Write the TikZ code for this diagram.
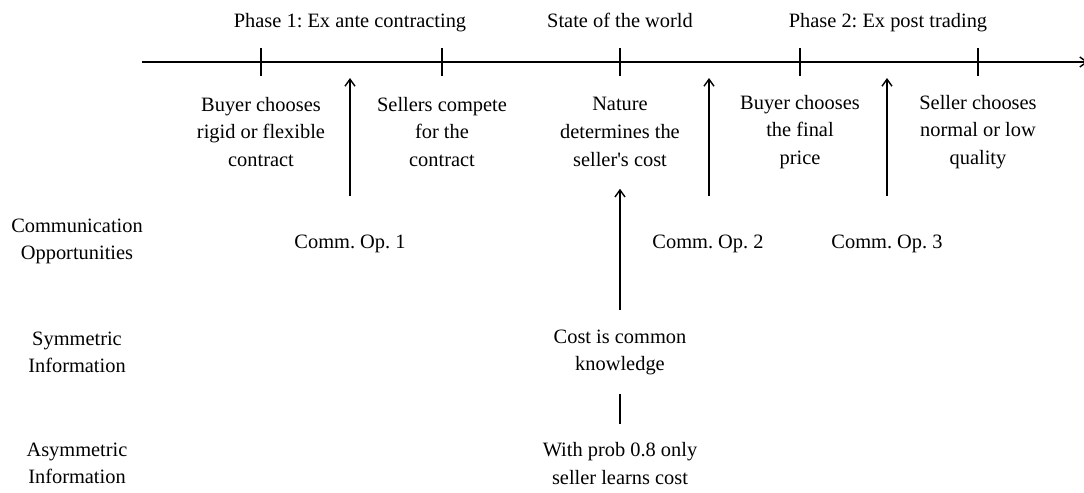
\documentclass[tikz,border=0pt]{standalone}
\usepackage{fontspec}
\setmainfont{Liberation Serif}
\usetikzlibrary{arrows.meta}
\tikzset{
  lbl/.style={align=center, inner sep=0pt, font=\fontsize{10.2}{13.8}\selectfont\frenchspacing},
  axisline/.style={line width=0.7pt},
  tick/.style={line width=0.7pt},
  commarrow/.style={line width=0.7pt,-{Straight Barb[length=3.5pt,width=5pt]}}
}
\begin{document}
\begin{tikzpicture}[x=0.5pt,y=-0.5pt]
\useasboundingbox (0,0) rectangle (1084,493);

% time line
\coordinate (start) at (142,62);
\coordinate (stop) at (1088,62);
\draw[axisline,-{Straight Barb[length=3.5pt,width=5pt]}] (start) -- (stop);

\foreach \x/\n in {261/t1,442/t2,620/t3,800/t4,978/t5}
    \draw[tick] (\x,48) coordinate (\n) -- (\x,76);

% phases
\node[lbl,anchor=base] (phase1) at (350,27) {Phase 1: Ex ante contracting};
\node[lbl,anchor=base] (state) at (620,27) {State of the world};
\node[lbl,anchor=base] (phase2) at (888,27) {Phase 2: Ex post trading};

% events
\node[lbl] (buyer1) at (261,132) {Buyer chooses\\rigid or flexible\\contract};
\node[lbl] (compete) at (442,132) {Sellers compete\\for the\\contract};
\node[lbl] (nature) at (620,132) {Nature\\determines the\\seller\textquotesingle s cost};
\node[lbl] (buyer2) at (800,132) {Buyer chooses\\the final\\price};
\node[lbl] (quality) at (978,132) {Seller chooses\\normal or low\\quality};

% row labels
\node[lbl] (commrow) at (77,241.5) {Communication\\Opportunities};
\node[lbl] (symrow) at (77,352.5) {Symmetric\\Information};
\node[lbl] (asymrow) at (77,463.5) {Asymmetric\\Information};

% communication opportunities
\node[lbl,anchor=base] (comm1) at (350,248) {Comm. Op. 1};
\node[lbl,anchor=base] (comm2) at (708,248) {Comm. Op. 2};
\node[lbl,anchor=base] (comm3) at (887,248) {Comm. Op. 3};
\foreach \n/\x in {comm1/350,comm2/709,comm3/887}
    \draw[commarrow] (\x,196) -- (\x,78);

% information
\node[lbl] (sym) at (620,352.5) {Cost is common\\knowledge};
\node[lbl] (asym) at (620,463.5) {With prob 0.8 only\\seller learns cost};
\draw[commarrow] ([yshift=9.5pt]sym.north) -- ([yshift=-11pt]nature.south);
\draw[tick] ([yshift=-9pt]sym.south) -- ([yshift=9pt]asym.north);

\end{tikzpicture}
\end{document}
